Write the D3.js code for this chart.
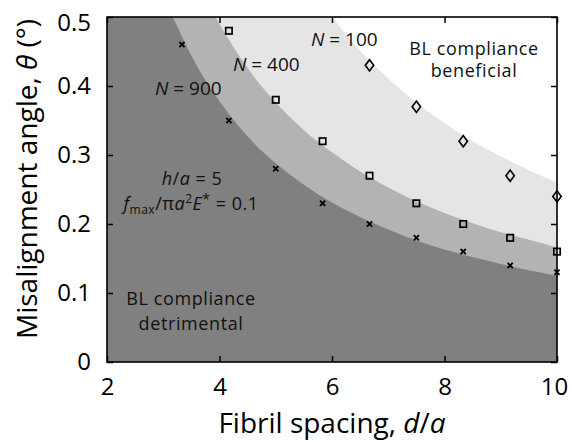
<!DOCTYPE html>
<html>
<head>
<meta charset="utf-8">
<script src="https://cdn.jsdelivr.net/npm/d3@7"></script>
<style>
  html, body { margin: 0; padding: 0; background: #fff; }
  svg { display: block; font-family: "Open Sans", "Noto Sans", sans-serif; }
</style>
</head>
<body>
<svg id="chart" width="572" height="442"></svg>
<script>
// Fibril spacing (d/a) at which the simulations were run
const spacing = [3.333, 4.167, 5, 5.833, 6.667, 7.5, 8.333, 9.167, 10];
// Critical misalignment angle (deg) from simulations, per fibril count N
const thetaN900 = [0.46, 0.35, 0.28, 0.23, 0.20, 0.18, 0.16, 0.14, 0.13];
const thetaN400 = [null, 0.48, 0.38, 0.32, 0.27, 0.23, 0.20, 0.18, 0.16];
const thetaN100 = [null, null, null, null, 0.43, 0.37, 0.32, 0.27, 0.24];

// Analytical boundary curves (d/a, theta) separating the regimes
const boundaryD900 = [3.17, 3.5, 4, 4.5, 5, 5.5, 6, 6.5, 7, 7.5, 8, 8.5, 9, 9.5, 10];
const boundaryT900 = [0.5, 0.444, 0.378, 0.327, 0.288, 0.257, 0.231, 0.210, 0.192, 0.176, 0.163, 0.152, 0.142, 0.133, 0.125];
const boundaryD400 = [3.93, 4, 4.5, 5, 5.5, 6, 6.5, 7, 7.5, 8, 8.5, 9, 9.5, 10];
const boundaryT400 = [0.5, 0.49, 0.426, 0.376, 0.336, 0.304, 0.276, 0.253, 0.233, 0.216, 0.201, 0.188, 0.177, 0.166];
const boundaryD100 = [6, 6.5, 7, 7.5, 8, 8.5, 9, 9.5, 10];
const boundaryT100 = [0.5, 0.451, 0.411, 0.376, 0.346, 0.320, 0.298, 0.278, 0.260];

const xTicks = [2, 4, 6, 8, 10];
const yTicks = [0, 0.1, 0.2, 0.3, 0.4, 0.5];

const svg = d3.select("#chart");
const x = d3.scaleLinear().domain([2, 10]).range([107, 557]);
const y = d3.scaleLinear().domain([0, 0.5]).range([362, 17]);

// Shaded regions: everything below/left of each boundary curve
const curveLine = d3.line().x(p => x(p[0])).y(p => y(p[1])).curve(d3.curveMonotoneX);
function regionPath(ds, ts) {
  const pts = ds.map((d, i) => [d, ts[i]]);
  return curveLine(pts) +
    `L${x(10)},${y(0)}L${x(2)},${y(0)}L${x(2)},${y(0.5)}Z`;
}
const regions = [
  { d: boundaryD100, t: boundaryT100, fill: "#e5e5e5" },
  { d: boundaryD400, t: boundaryT400, fill: "#b3b3b3" },
  { d: boundaryD900, t: boundaryT900, fill: "#808080" }
];
svg.append("g").selectAll("path").data(regions).join("path")
  .attr("d", r => regionPath(r.d, r.t))
  .attr("fill", r => r.fill);

// Axes with inward ticks on all four sides
const tickLen = 6;
const gx = svg.append("g").attr("transform", `translate(0,${y(0)})`)
  .call(d3.axisBottom(x).tickValues(xTicks).tickSizeInner(-tickLen).tickSizeOuter(0).tickPadding(16).tickFormat(d3.format("d")));
const gy = svg.append("g").attr("transform", `translate(${x(2)},0)`)
  .call(d3.axisLeft(y).tickValues(yTicks).tickSizeInner(-tickLen).tickSizeOuter(0).tickPadding(16).tickFormat(d => d === 0 ? "0" : d3.format(".1f")(d)));
const gt = svg.append("g").attr("transform", `translate(0,${y(0.5)})`)
  .call(d3.axisTop(x).tickValues(xTicks).tickSizeInner(-tickLen).tickSizeOuter(0).tickFormat(""));
const gr = svg.append("g").attr("transform", `translate(${x(10)},0)`)
  .call(d3.axisRight(y).tickValues(yTicks).tickSizeInner(-tickLen).tickSizeOuter(0).tickFormat(""));
[gx, gy, gt, gr].forEach(g => {
  g.select(".domain").remove();
  g.selectAll(".tick line").attr("stroke", "#000").attr("stroke-width", 1.5);
  g.selectAll("text").attr("font-size", 24).attr("fill", "#000")
    .attr("font-family", "'Open Sans', 'Noto Sans', sans-serif");
});
// keep the outermost labels clear of the frame edges
gy.selectAll(".tick text").filter(d => d === 0.5).attr("dy", "0.58em");
gx.selectAll(".tick text").filter(d => d === 10).attr("dx", -3);

// Plot frame
svg.append("rect")
  .attr("x", x(2)).attr("y", y(0.5))
  .attr("width", x(10) - x(2)).attr("height", y(0) - y(0.5))
  .attr("fill", "none").attr("stroke", "#000").attr("stroke-width", 1.6);

// Simulation markers
const pts = (vals) => spacing.map((d, i) => ({ d, t: vals[i] })).filter(p => p.t !== null);
const marks = svg.append("g").attr("fill", "none").attr("stroke", "#000");
marks.selectAll("path.cross").data(pts(thetaN900)).join("path")
  .attr("class", "cross")
  .attr("d", p => { const cx = x(p.d), cy = y(p.t), s = 2.6;
    return `M${cx - s},${cy - s}L${cx + s},${cy + s}M${cx - s},${cy + s}L${cx + s},${cy - s}`; })
  .attr("stroke-width", 1.8);
marks.selectAll("rect.sq").data(pts(thetaN400)).join("rect")
  .attr("class", "sq")
  .attr("x", p => x(p.d) - 3.2).attr("y", p => y(p.t) - 3.2)
  .attr("width", 6.4).attr("height", 6.4)
  .attr("stroke-width", 1.7);
marks.selectAll("path.dia").data(pts(thetaN100)).join("path")
  .attr("class", "dia")
  .attr("d", p => { const cx = x(p.d), cy = y(p.t), w = 4.2, h = 5.6;
    return `M${cx},${cy - h}L${cx + w},${cy}L${cx},${cy + h}L${cx - w},${cy}Z`; })
  .attr("stroke-width", 1.6);

// Annotations
const ann = svg.append("g").attr("font-size", 18).attr("fill", "#111");
function nLabel(px, py, n) {
  const t = ann.append("text").attr("x", px).attr("y", py).attr("font-size", 19);
  t.append("tspan").attr("font-style", "italic").text("N");
  t.append("tspan").text(" = " + n);
}
nLabel(155, 95, 900);
nLabel(233, 71, 400);
nLabel(311, 46, 100);

// two-line region labels, slightly tracked out
const regionLabel = (cx, cy, text) => ann.append("text")
  .attr("x", cx).attr("y", cy).attr("text-anchor", "middle")
  .attr("letter-spacing", 0.6).text(text);
regionLabel(474, 55, "BL compliance");
regionLabel(474, 77, "beneficial");
regionLabel(191, 305, "BL compliance");
regionLabel(191, 330, "detrimental");

const t1 = ann.append("text").attr("x", 192).attr("y", 185).attr("text-anchor", "middle")
  .attr("letter-spacing", 0.5);
t1.append("tspan").attr("font-style", "italic").text("h");
t1.append("tspan").text("/");
t1.append("tspan").attr("font-style", "italic").text("a");
t1.append("tspan").text(" = 5");

const t2 = ann.append("text").attr("x", 191).attr("y", 210).attr("text-anchor", "middle")
  .attr("letter-spacing", 0.5);
t2.append("tspan").attr("font-style", "italic").text("f");
t2.append("tspan").attr("font-size", 12).attr("dy", 4).text("max");
t2.append("tspan").attr("dy", -4).text("/π");
t2.append("tspan").attr("font-style", "italic").text("a");
t2.append("tspan").attr("font-size", 12).attr("dy", -7).text("2");
t2.append("tspan").attr("font-style", "italic").attr("dy", 7).text("E");
t2.append("tspan").attr("font-size", 14).attr("dy", -6).text("*");
t2.append("tspan").attr("dy", 6).text(" = 0.1");

// Axis titles
const xt = svg.append("text").attr("x", 332).attr("y", 433).attr("text-anchor", "middle")
  .attr("font-size", 28).attr("fill", "#000");
xt.append("tspan").text("Fibril spacing, ");
xt.append("tspan").attr("font-style", "italic").text("d");
xt.append("tspan").text("/");
xt.append("tspan").attr("font-style", "italic").text("a");

const yt = svg.append("text").attr("transform", "translate(37,179) rotate(-90)")
  .attr("text-anchor", "middle").attr("font-size", 28).attr("fill", "#000");
yt.append("tspan").text("Misalignment angle, ");
yt.append("tspan").attr("font-style", "italic").text("θ");
yt.append("tspan").text(" (°)");
</script>
</body>
</html>
